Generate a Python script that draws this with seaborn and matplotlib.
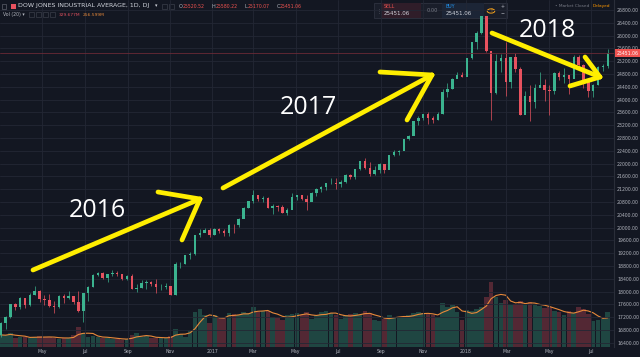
import numpy as np
import pandas as pd
import matplotlib
matplotlib.use("Agg")
import matplotlib.pyplot as plt
from matplotlib.patches import Rectangle, Circle
from matplotlib.ticker import FuncFormatter
import seaborn as sns

# weekly DJIA candles, week ending Friday, from 2016-03-04 to 2018-07-27
first_open = 16640
closes = [
    17006, 17213, 17602, 17516,  17793, 17577, 17897, 18004, 17774,
    17740, 17535, 17501, 17873,  17807, 17865, 17675, 17400,
    17949, 18147, 18516, 18571, 18432,  18543, 18576, 18553, 18395,
    18492, 18085, 18124, 18261, 18308,  18240, 18138, 18145, 18161,
    17888, 18847, 18868, 19152,  19171, 19757, 19843, 19934, 19763,
    19964, 19886, 19827, 20094,  20071, 20269, 20624, 20822,
    21005, 20903, 20915, 20597, 20663,  20656, 20453, 20548, 20941,
    21007, 20897, 20805, 21080,  21206, 21272, 21384, 21395, 21350,
    21414, 21638, 21580, 21830,  22092, 21858, 21675, 21814,
    21988, 21798, 22268, 22350, 22405,  22774, 22871, 23329, 23434,
    23539, 23422, 23358, 23558,  24232, 24329, 24652, 24754, 24719,
    25296, 25803, 26072, 26616,  25521, 24191, 25219, 25310,
    24538, 25336, 24947, 23533, 24103,  23933, 24360, 24463, 24311,
    24263, 24831, 24715, 24753,  24635, 25317, 25090, 24581, 24271,
    24456, 25019, 25058, 25451,
]
highs = [
    17063, 17220, 17620, 17634,  17817, 17792, 17942, 18168, 18060,
    17891, 17934, 17711, 17891,  17934, 18003, 17865, 18016,
    17949, 18167, 18537, 18622, 18599,  18543, 18668, 18637, 18562,
    18525, 18537, 18243, 18358, 18365,  18325, 18399, 18220, 18255,
    18172, 18934, 18934, 19153,  19225, 19764, 19966, 19987, 19981,
    19999, 19982, 19952, 20126,  20125, 20298, 20639, 20840,
    21169, 21003, 21000, 20953, 20727,  20720, 20710, 20602, 21070,
    21007, 21012, 21002, 21113,  21225, 21305, 21391, 21535, 21541,
    21480, 21681, 21681, 21843,  22092, 22179, 22036, 21913,
    22005, 21970, 22275, 22419, 22418,  22777, 22905, 23329, 23485,
    23557, 23602, 23485, 23602,  24327, 24534, 24669, 24876, 24871,
    25299, 25804, 26153, 26617,  26608, 25520, 25432, 25434,
    25800, 25336, 25449, 25016, 24261,  24470, 24482, 24858, 24643,
    24441, 24868, 24904, 24977,  24764, 25402, 25402, 25103, 24688,
    24496, 25039, 25114, 25580,
]
lows = [
    16581, 16821, 17171, 17425,  17460, 17484, 17556, 17888, 17667,
    17581, 17505, 17331, 17480,  17646, 17775, 17602, 17356,
    17063, 17713, 18146, 18488, 18377,  18305, 18485, 18482, 18354,
    18375, 18085, 17992, 18120, 18094,  18168, 17959, 18035, 18094,
    17884, 17883, 18745, 18870,  19021, 19151, 19718, 19881, 19718,
    19775, 19821, 19731, 19733,  19831, 20031, 20294, 20599,
    20754, 20826, 20800, 20596, 20413,  20532, 20453, 20379, 20720,
    20851, 20850, 20554, 20849,  20976, 21106, 21170, 21370, 21197,
    21279, 21384, 21503, 21521,  21808, 21843, 21600, 21651,
    21709, 21709, 21904, 22225, 22278,  22416, 22727, 22902, 23203,
    23348, 23242, 23271, 23371,  23536, 24068, 24345, 24660, 24719,
    24741, 25257, 25580, 26058,  25490, 23360, 24160, 24875,
    24117, 24359, 24863, 23509, 23600,  23344, 23752, 24410, 23955,
    23532, 24168, 24615, 24507,  24167, 24702, 24972, 24356, 24084,
    24078, 24456, 24896, 24980,
]
# average daily volume of each week, millions
volumes = [
    115, 110, 135, 90,  95, 92, 88, 95, 100,  95, 92, 90, 78,  85, 90, 110, 190,
    130, 95, 100, 95, 90,  85, 80, 75, 70,  75, 110, 130, 95, 100,  90, 85, 85, 90,
    100, 175, 120, 95,  150, 330, 360, 300, 230,
    300, 280, 290, 320,  310, 300, 330, 320,  380, 330, 340, 340, 290,
    280, 260, 300, 310,  320, 300, 330, 270,  300, 330, 340, 320, 300,
    270, 300, 310, 320,  300, 340, 320, 260,  250, 270, 300, 290, 280,
    290, 300, 320, 330,  320, 310, 300, 290,  420, 380, 400, 330, 260,
    350, 340, 360, 380,  480, 620, 480, 420,  450, 400, 410, 440, 400,
    430, 400, 390, 370,  380, 340, 330, 300,  340, 320, 380, 360, 310,
    250, 260, 270, 330,
]
last_price = 25451.06
price_ticks = list(range(16400, 26801, 400))
month_ticks = ["2016-05-01", "2016-07-01", "2016-09-01", "2016-11-01", "2017-01-01",
               "2017-03-01", "2017-05-01", "2017-07-01", "2017-09-01", "2017-11-01",
               "2018-01-01", "2018-03-01", "2018-05-01", "2018-07-01"]
month_labels = ["May", "Jul", "Sep", "Nov", "2017", "Mar", "May", "Jul", "Sep", "Nov",
                "2018", "Mar", "May", "Jul"]

BG = "#131722"
GRID = "#232734"
UP = "#3bb38f"
DOWN = "#e8525f"
TXT = "#b2b5be"

sns.set_theme(style="dark", rc={"axes.facecolor": BG, "figure.facecolor": BG})
plt.rcParams["font.family"] = ["DejaVu Sans"]

weeks = pd.date_range("2016-03-04", periods=len(closes), freq="W-FRI")
df = pd.DataFrame({"date": weeks - pd.Timedelta(days=2), "close": closes,
                   "high": highs, "low": lows, "volume": volumes})
df["open"] = [first_open] + closes[:-1]
df["color"] = np.where(df["close"] >= df["open"], UP, DOWN)
df["vol_ma"] = df["volume"].rolling(4, min_periods=1).mean()

fig = plt.figure(figsize=(6.4, 3.57), dpi=100)
ax = fig.add_axes([0, 10 / 357, 614 / 640, 347 / 357])
axv = ax.twinx()
ax.set_zorder(axv.get_zorder() + 1)
ax.patch.set_visible(False)

# volume
axv.bar(df["date"], df["volume"], width=6.6, color=df["color"], alpha=0.3, linewidth=0)
sns.lineplot(data=df, x="date", y="vol_ma", ax=axv, color="#e8893a", lw=0.8)
axv.set_ylim(0, 3300)
axv.set_yticks([])
axv.set_ylabel("")

# candles
ax.set_axisbelow(True)
ax.grid(True, color=GRID, lw=0.6)
ax.vlines(df["date"], df["low"], df["high"], colors=df["color"], lw=0.5)
body = (df["close"] - df["open"]).abs().clip(lower=18)
ax.bar(df["date"], body, bottom=df[["open", "close"]].min(axis=1), width=3.6,
       color=df["color"], linewidth=0)
ax.axhline(last_price, color="#6a2a36", lw=0.6)

ax.set_xlim(pd.Timestamp("2016-03-01"), pd.Timestamp("2018-08-03"))
ax.set_ylim(16266, 27113)
ax.set_yticks(price_ticks)
ax.yaxis.set_major_formatter(FuncFormatter(lambda v, _: f"{v:.2f}"))
ax.yaxis.tick_right()
ax.set_xticks(pd.to_datetime(month_ticks))
ax.set_xticklabels(month_labels)
ax.tick_params(axis="y", length=0, pad=2.2, labelsize=3.3, labelcolor=TXT)
ax.tick_params(axis="x", length=0, pad=1.2, labelsize=3.3, labelcolor=TXT)
ax.set_xlabel("")
ax.set_ylabel("")
for a in (ax, axv):
    for s in a.spines.values():
        s.set_visible(False)
ax.spines["right"].set_visible(True)
ax.spines["right"].set_color("#2a2e39")
ax.spines["right"].set_linewidth(0.8)

ax.text(1.004, last_price, f"{last_price:.2f}", transform=ax.get_yaxis_transform(),
        ha="left", va="center", fontsize=3.3, color="white", clip_on=False,
        bbox=dict(boxstyle="square,pad=0.35", fc="#ef5350", ec="none"))

# yellow arrows (axes fractions)
YEL = "#ffee00"
arrows = [
    [(0.0537, 0.2219), (0.3257, 0.4265)], [(0.2573, 0.4467), (0.3257, 0.4265)],
    [(0.2964, 0.3084), (0.3257, 0.4265)],
    [(0.3632, 0.4582), (0.7036, 0.7839)], [(0.6189, 0.7925), (0.7036, 0.7839)],
    [(0.6629, 0.6542), (0.7036, 0.7839)],
    [(0.8013, 0.9049), (0.9772, 0.7781)], [(0.9528, 0.8357), (0.9772, 0.7781)],
    [(0.9283, 0.7522), (0.9772, 0.7781)],
]
for (x0, y0), (x1, y1) in arrows:
    ax.plot([x0, x1], [y0, y1], transform=ax.transAxes, color=YEL, lw=3.4,
            solid_capstyle="round", clip_on=False, zorder=10)
for s, fx, fy in [("2016", 0.158, 0.392), ("2017", 0.5016, 0.6916), ("2018", 0.8909, 0.9135)]:
    ax.text(fx, fy, s, transform=ax.transAxes, fontsize=18, color="white",
            family=["Open Sans", "DejaVu Sans"], ha="center", va="center", zorder=11)


# header overlay, pixel positions
def ftext(px, py, s, **kw):
    kw.setdefault("va", "center")
    fig.text(px / 640, 1 - py / 357, s, **kw)


def frect(px, py, w, h, **kw):
    fig.add_artist(Rectangle((px / 640, 1 - (py + h) / 357), w / 640, h / 357,
                             transform=fig.transFigure, **kw))


frect(2, 3.5, 4, 5, fc="none", ec="#5d606b", lw=0.5)
frect(10.5, 3.5, 5, 5, fc="#e8525f", ec="none")
ftext(18, 6, "DOW JONES INDUSTRIAL AVERAGE, 1D, DJ", fontsize=4.5, color="#d1d4dc")
ftext(155, 6, "▾", fontsize=3.5, color="#d1d4dc")
frect(162, 3.5, 4.5, 5, fc="none", ec="#3a3e4a", lw=0.5)
frect(169, 3.5, 4.5, 5, fc="none", ec="#3a3e4a", lw=0.5)
for lab, px, val, vx in [("O", 178.5, "25520.52", 183), ("H", 212, "25580.22", 216),
                         ("L", 244.5, "25170.07", 247.5), ("C", 276.5, "25451.06", 280)]:
    ftext(px, 6, lab, fontsize=3.6, color="#b2b5be")
    ftext(vx, 6, val, fontsize=3.3, color="#ef5350")
ftext(3, 14.5, "Vol (20) ▾", fontsize=3.3, color="#b2b5be")
for bx in (29, 36, 43, 50):
    frect(bx, 12, 4.5, 5, fc="none", ec="#3a3e4a", lw=0.5)
ftext(59, 14.5, "329.677M", fontsize=3.2, color="#e0505e")
ftext(83, 14.5, "256.599M", fontsize=3.2, color="#e8893a")

frect(374, 3, 133, 15, fc="#1a1e2a", ec="#2e3240", lw=0.6)
frect(381, 3, 40, 15, fc="#2f1d29", ec="none")
frect(442, 3, 42, 15, fc="#1c2536", ec="none")
ftext(377, 10.5, "⋮", fontsize=4, color="#5d606b")
ftext(384, 6.5, "SELL", fontsize=3.4, color="#ef5350")
ftext(384, 13.5, "25451.06", fontsize=4.0, color="#d1d4dc")
ftext(427, 11, "0.00", fontsize=3.6, color="#787b86")
ftext(446, 6.5, "BUY", fontsize=3.4, color="#2196f3")
ftext(446, 13.5, "25451.06", fontsize=4.0, color="#d1d4dc")
fig.add_artist(Circle((491 / 640, 1 - 11 / 357), 3.8 / 640, transform=fig.transFigure,
                      fc="none", ec="#f7a21b", lw=0.7))
ftext(491, 11, "!", fontsize=3.4, color="#f7a21b", ha="center")
ftext(502.5, 6, "+", fontsize=3.4, color="#b2b5be", ha="center")
ftext(502.5, 14, "−", fontsize=3.4, color="#b2b5be", ha="center")
ftext(555, 6, "• Market Closed", fontsize=3.1, color="#787b86")
ftext(593, 6, "Delayed", fontsize=3.1, color="#ff9800")

fig.savefig("out.png", dpi=100, facecolor=BG)
